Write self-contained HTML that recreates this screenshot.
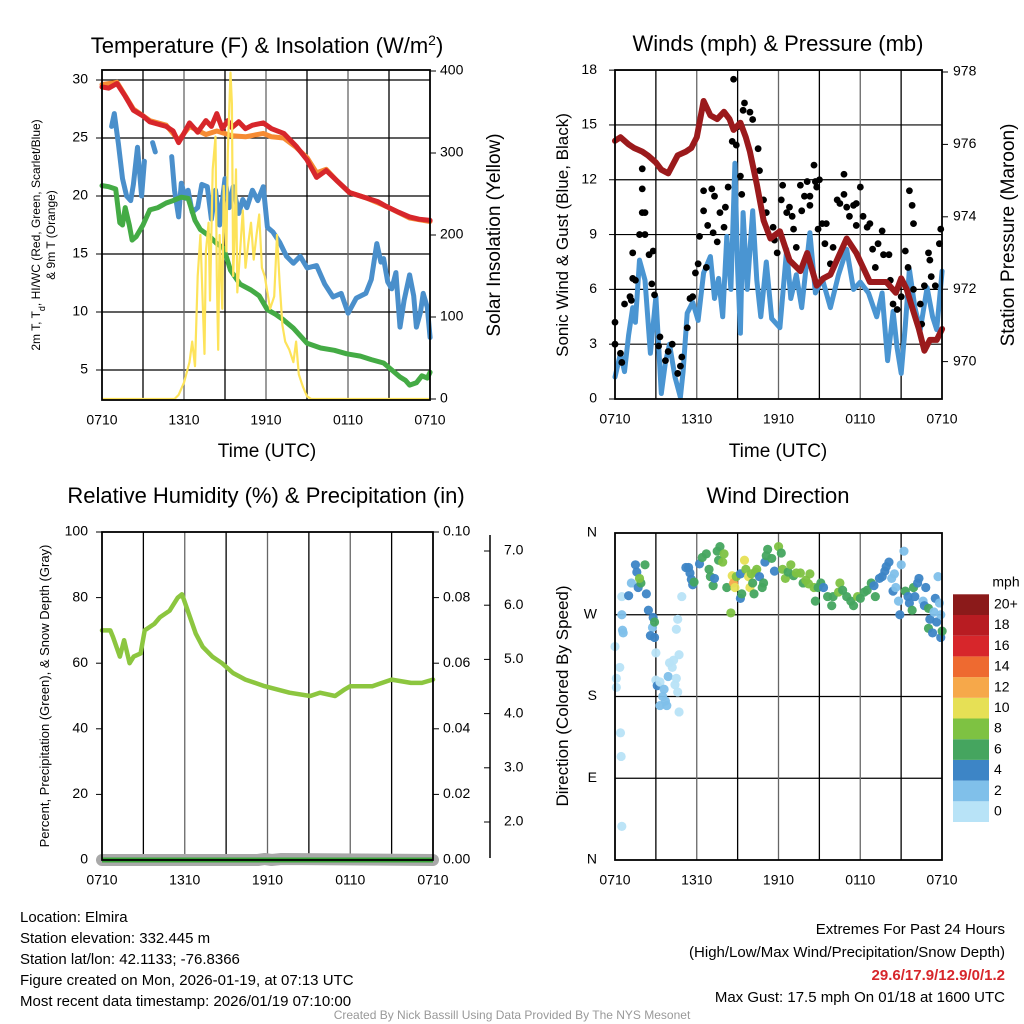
<!DOCTYPE html>
<html><head><meta charset="utf-8"><style>
html,body{margin:0;padding:0;background:#fff}
svg{display:block;font-family:"Liberation Sans",Arial,sans-serif}
</style></head><body>
<svg id="c" width="1024" height="1024" viewBox="0 0 1024 1024" xmlns="http://www.w3.org/2000/svg">
<rect width="1024" height="1024" fill="#fff"/>
<text x="267" y="53" font-size="22" text-anchor="middle">Temperature (F) &amp; Insolation (W/m<tspan baseline-shift="super" font-size="14">2</tspan>)</text>
<text x="778" y="45" font-size="22" text-anchor="middle" dominant-baseline="middle">Winds (mph) &amp; Pressure (mb)</text>
<text x="266" y="497" font-size="22" text-anchor="middle" dominant-baseline="middle">Relative Humidity (%) &amp; Precipitation (in)</text>
<text x="778" y="497" font-size="22" text-anchor="middle" dominant-baseline="middle">Wind Direction</text>

<text transform="translate(40,235) rotate(-90)" font-size="12" text-anchor="middle">2m T, T<tspan baseline-shift="sub" font-size="9">d</tspan>, HI/WC (Red, Green, Scarlet/Blue)</text>
<text transform="translate(55,235) rotate(-90)" font-size="12" text-anchor="middle">&amp; 9m T (Orange)</text>
<text transform="translate(500,235) rotate(-90)" font-size="19" text-anchor="middle">Solar Insolation (Yellow)</text>
<text transform="translate(568,235) rotate(-90)" font-size="17" text-anchor="middle">Sonic Wind &amp; Gust (Blue, Black)</text>
<text transform="translate(1014,235) rotate(-90)" font-size="19" text-anchor="middle">Station Pressure (Maroon)</text>
<text transform="translate(49,696) rotate(-90)" font-size="13" text-anchor="middle">Percent, Precipitation (Green), &amp; Snow Depth (Gray)</text>
<text transform="translate(568,696) rotate(-90)" font-size="17" text-anchor="middle">Direction (Colored By Speed)</text>
<text x="267" y="452" font-size="19" text-anchor="middle" dominant-baseline="middle">Time (UTC)</text>
<text x="778" y="452" font-size="19" text-anchor="middle" dominant-baseline="middle">Time (UTC)</text>

<g font-size="15">
<text x="20" y="922">Location: Elmira</text>
<text x="20" y="943">Station elevation: 332.445 m</text>
<text x="20" y="964">Station lat/lon: 42.1133; -76.8366</text>
<text x="20" y="985">Figure created on Mon, 2026-01-19, at 07:13 UTC</text>
<text x="20" y="1006">Most recent data timestamp: 2026/01/19 07:10:00</text>
</g>
<g font-size="15" text-anchor="end">
<text x="1005" y="934">Extremes For Past 24 Hours</text>
<text x="1005" y="957">(High/Low/Max Wind/Precipitation/Snow Depth)</text>
<text x="1005" y="980" fill="#d7262b" font-weight="bold">29.6/17.9/12.9/0/1.2</text>
<text x="1005" y="1002">Max Gust: 17.5 mph On 01/18 at 1600 UTC</text>
</g>
<text x="512" y="1019" font-size="12" fill="#999" text-anchor="middle">Created By Nick Bassill Using Data Provided By The NYS Mesonet</text>
</svg>
<script>
// ---- Panel 1 data ----
const redT=[0,0.5,1.1,1.7,2.3,3.0,3.5,4.1,4.7,5.2,5.6,5.9,6.4,7.0,7.6,8.0,8.4,8.8,9.2,9.5,10.0,10.5,11.0,11.8,12.4,13.3,14.2,15.0,15.7,16.4,17.2,18.1,19.4,20.2,20.8,21.7,22.5,23.2,24];
const redV=[29.4,29.3,29.7,28.6,27.4,26.9,26.4,26.2,26.0,25.6,24.6,25.2,26.3,25.5,26.5,26.0,27.1,25.8,26.5,25.9,26.4,25.8,26.1,26.3,25.8,25.4,24.3,23.1,21.6,22.2,21.3,20.3,19.8,19.5,19.1,18.6,18.2,18.0,17.9];
const orangeT=[0,1.1,2.3,3.5,4.7,5.6,6.4,7.6,8.4,9.5,10.5,11.8,12.4,13.3,14.2,15.0,15.7,16.4,17.2,18.1,19.4,20.8,22.5,24];
const orangeV=[29.6,29.8,27.5,26.5,26.1,24.8,26.0,25.3,25.6,25.2,25.1,25.4,25.1,25.0,24.2,23.3,22.0,22.3,21.3,20.3,19.8,19.1,18.1,17.8];
const blueT=[0.7,0.9,1.2,1.5,1.8,2.1,2.3,2.6,2.9,3.1,null,3.7,3.9,null,5.1,5.3,5.6,5.8,6.1,6.3,6.6,7.0,7.3,7.7,8.0,8.3,8.6,9.0,9.3,9.6,10.0,10.3,10.6,11.0,11.4,11.8,12.1,12.5,13.0,13.5,14.0,14.5,15.0,15.7,16.3,16.9,17.5,18.0,18.6,19.3,19.7,20.1,20.4,20.6,20.9,21.2,21.5,21.8,22.1,22.5,22.8,23.0,23.3,23.5,23.8,24];
const blueV=[26.0,27.1,24.5,21.5,20.0,19.6,21.0,24.2,20.0,23.0,null,24.6,23.8,null,23.4,20.5,18.2,21.1,19.8,20.5,18.6,19.0,21.0,20.8,18.0,20.5,17.5,21.5,19.0,20.8,18.5,19.7,19.0,20.5,19.6,20.8,17.3,16.9,16.0,14.8,14.2,14.8,13.8,14.0,12.4,11.3,11.6,9.9,11.2,11.6,12.8,15.9,14.3,14.6,12.6,12.0,13.4,8.7,11.0,13.2,11.4,8.7,10.0,11.6,10.4,7.8];
const greenT=[0,0.5,1.0,1.3,1.5,1.7,2.0,2.2,2.5,3.0,3.5,4.1,4.7,5.2,5.8,6.3,6.8,7.2,7.8,8.4,8.9,9.4,10.1,10.9,11.5,12.1,12.7,13.3,14.0,15.0,16.0,17.0,17.9,18.9,19.7,20.6,21.2,21.8,22.2,22.5,23.0,23.4,23.8,24];
const greenV=[20.9,20.8,20.6,17.7,17.5,19.0,17.5,16.2,16.5,17.5,18.8,19.0,19.4,19.6,19.9,19.8,17.9,17.1,16.6,15.9,15.5,13.6,12.4,11.9,11.4,10.2,9.8,9.3,8.6,7.3,6.9,6.7,6.4,6.2,5.9,5.6,5.0,4.4,4.1,3.7,3.9,4.5,4.3,4.8];
const solarT=[0,5.3,5.6,6.0,6.4,6.6,6.8,7.0,7.2,7.4,7.5,7.6,7.8,7.9,8.1,8.3,8.4,8.5,8.6,8.8,8.9,9.1,9.2,9.4,9.5,9.6,9.7,9.8,9.9,10.1,10.3,10.5,10.7,10.9,11.1,11.3,11.5,11.7,11.9,12.1,12.3,12.6,12.8,13.0,13.2,13.4,13.7,14.0,14.2,14.4,14.7,15.0,15.3,24];
const solarV=[0,0,5,20,45,70,40,150,200,100,55,180,215,120,280,320,150,60,200,110,260,180,300,398,360,150,200,280,130,180,230,160,190,215,170,200,225,160,150,130,110,125,200,140,90,70,60,45,70,30,15,3,0,0];
const tempTicks=[30,25,20,15,10,5];
const solarTicks=[400,300,200,100,0];
const timeTicks=["0710","1310","1910","0110","0710"];
// ---- Panel 2 data ----
const windT=[0,0.4,0.7,1.0,1.3,1.5,1.8,2.2,2.6,3.0,3.4,3.7,4.0,4.4,4.8,5.0,5.3,5.7,6.1,6.5,7.0,7.3,7.6,7.9,8.2,8.5,8.8,9.0,9.2,9.4,9.7,10.1,10.4,10.7,11.1,11.5,12.1,12.6,12.9,13.3,13.7,14.3,14.7,15.2,15.8,16.4,17.0,17.5,18.0,18.6,19.2,19.6,20.0,20.4,20.7,21.0,21.3,21.6,22.0,22.4,22.9,23.3,23.6,24];
const windV=[1.2,2.5,1.5,3.5,5.0,4.2,7.6,6.5,2.5,5.6,0.3,2.0,3.0,1.2,0.1,1.5,4.7,5.3,4.3,6.9,7.8,5.5,6.6,4.5,8.9,6.0,12.9,7.0,3.6,10.2,6.0,10.3,6.5,4.5,7.5,4.4,3.9,8.2,5.5,6.8,5.0,9.1,5.8,6.6,5.0,6.8,8.2,6.0,6.4,5.8,4.5,5.8,2.1,4.8,2.8,1.4,4.0,7.1,5.0,3.8,6.1,4.5,3.8,7.0];
const presT=[0,0.4,1.0,1.4,2.0,2.4,3.0,3.4,3.9,4.6,5.2,5.6,6.0,6.5,7.0,7.5,8.0,8.4,8.7,9.2,9.6,9.9,10.4,10.9,11.4,12.1,12.8,13.6,14.1,14.8,15.3,15.8,16.4,17.0,17.7,18.2,18.7,19.3,19.9,20.6,21.0,21.4,21.8,22.3,22.7,23.1,23.6,24];
const presV=[976.1,976.2,976.0,975.9,975.8,975.7,975.5,975.3,975.2,975.7,975.8,975.9,976.2,977.2,976.8,976.7,976.9,976.7,976.4,976.6,976.2,975.8,974.9,973.9,973.4,973.6,972.8,972.5,973.0,972.1,972.3,972.4,972.9,973.4,973.0,972.6,972.2,972.2,972.2,971.9,972.3,972.0,971.5,970.9,970.3,970.6,970.6,970.9];
const gustT=[0,0,0.4,0.5,0.7,1.1,1.2,1.3,1.5,1.3,1.8,2.0,2.2,2.0,2.0,2.2,2.5,2.8,2.7,2.9,3.2,3.3,3.7,4.2,3.9,4.8,4.6,4.9,5.3,5.5,5.7,5.9,6.1,6.2,6.7,6.8,6.5,6.5,7.1,7.2,7.5,7.3,7.7,8.0,8.1,8.3,8.6,8.7,8.9,9.0,9.2,9.3,9.5,9.4,9.9,10.1,10.5,10.6,10.9,11.1,11.6,11.7,11.9,12.2,12.3,12.6,12.8,13.0,13.1,13.3,13.6,13.7,13.9,14.1,14.3,14.3,14.6,14.7,14.8,15.0,14.9,15.2,15.5,15.4,15.8,16.0,16.3,16.5,16.8,16.8,17.0,17.2,17.5,17.7,17.7,18.0,18.2,18.5,18.7,18.9,19.1,19.3,19.6,19.7,20.1,20.2,20.4,20.7,21.0,21.3,21.5,21.6,21.8,21.9,21.9,22.4,22.5,22.7,23.0,23.1,23.2,23.5,23.8,23.9];
const gustV=[4.2,3.0,2.5,2.0,5.2,5.6,5.4,6.6,6.5,8.0,9.0,10.2,10.2,11.5,12.6,9.0,7.9,8.1,6.3,5.7,2.9,3.4,2.1,3.0,2.6,1.8,1.4,2.3,3.9,5.5,5.6,6.9,7.4,8.9,7.2,9.5,10.3,11.4,11.5,9.1,8.6,11.1,10.2,9.4,10.5,11.6,14.1,17.5,13.9,14.9,12.2,11.2,16.2,15.8,15.7,15.3,13.7,12.5,10.9,10.2,9.4,8.7,8.0,10.9,11.7,10.2,10.5,10.0,9.3,8.3,11.7,10.3,11.1,11.9,10.6,11.1,12.8,11.9,11.6,12.0,9.3,9.6,9.6,8.5,7.4,8.3,10.9,10.7,12.3,11.2,10.5,10.0,10.6,10.7,9.5,11.6,10.0,9.4,9.6,8.2,7.2,8.5,9.2,7.9,7.9,6.5,5.2,4.9,5.6,8.1,7.2,11.4,10.6,9.6,6.0,5.2,4.1,6.2,8.0,7.6,6.7,6.2,8.5,9.3];
const windTicks=[0,3,6,9,12,15,18];
const presTicks=[970,972,974,976,978];
// ---- Panel 3 data ----
const rhT=[0,0.6,0.8,1.3,1.6,2.0,2.3,2.8,3.1,3.8,4.2,4.9,5.5,5.8,6.3,6.8,7.3,8.0,8.7,9.5,10.4,11.8,13.6,15.1,15.8,16.9,17.6,18.0,19.6,21.0,22.4,23.2,24];
const rhV=[70,70,68,62,67,60,62,63,70,72,74,76,80,81,75,69,65,62,60,57,55,53,51,50,51,50,52,53,53,55,54,54,55];
const precipT=[0,24];
const precipV=[0,0];
const snowT=[0,11.3,11.8,12.3,13.0,24];
const snowV=[0,0,0.3,0,0.3,0];
const rhTicks=[0,20,40,60,80,100];
const precipTicks=["0.00","0.02","0.04","0.06","0.08","0.10"];
const snowTicks=[2.0,3.0,4.0,5.0,6.0,7.0];
// ---- Panel 4 data ----
const dirT=[0,0.1,0.1,0.4,0.45,0.5,0.35,0.55,0.6,0.5,0.5,1.0,1.2,1.5,1.6,1.7,1.9,1.8,2.2,2.3,2.45,2.8,2.75,2.9,2.9,2.6,3.0,3.0,3.1,3.3,3.3,3.5,3.6,3.7,3.8,3.9,4.0,4.2,4.3,4.4,4.5,4.6,4.7,4.7,4.5,4.6,4.9,5.2,5.4,5.5,5.6,5.7,5.8,6.2,6.4,6.7,6.9,7.0,7.2,7.3,7.5,7.7,7.6,7.9,8.0,8.2,8.5,8.6,8.7,8.8,8.9,9.2,9.2,9.3,9.5,9.6,9.8,9.9,10.0,10.1,10.2,10.3,10.4,10.6,10.8,10.9,11.0,11.1,11.2,11.5,11.7,12.0,12.2,12.3,12.5,12.7,12.9,13.1,13.3,13.6,13.8,14.0,14.2,14.3,14.6,14.7,14.9,15.1,15.3,15.6,15.9,16.0,16.4,16.5,16.7,17.0,17.3,17.5,17.8,18.0,18.3,18.5,18.8,19.0,19.1,19.4,19.6,19.8,19.9,20.1,20.3,20.4,20.5,20.6,20.8,20.9,21.0,21.2,21.3,21.5,21.6,21.8,21.9,22.0,22.2,22.3,22.6,22.7,22.8,23.0,23.0,23.1,23.3,23.4,23.5,23.6,23.7,23.8,23.9,24,23.9];
const dirDeg=[235,200,190,140,114,37,212,253,250,270,290,291,305,325,317,300,305,310,325,293,275,267,256,262,245,247,228,198,192,196,170,180,188,175,170,202,217,212,220,193,200,185,163,226,254,265,290,322,322,316,309,303,306,326,333,337,320,312,302,310,340,345,330,328,337,300,272,313,305,300,312,315,288,293,330,320,312,300,315,305,293,317,320,312,300,305,328,335,342,332,318,345,338,320,310,317,325,313,316,316,305,308,304,315,300,285,300,305,300,290,280,290,295,305,297,290,285,280,290,288,295,297,305,302,290,310,312,318,323,328,310,296,315,300,285,270,325,340,296,290,283,275,300,290,305,310,285,280,300,277,255,265,250,273,288,262,312,283,245,252,270];
const dirSpd=[1,1,1,1,1,1,1,3,3,3,1,5,3,5,5,5,7,9,7,5,5,5,3,7,5,5,1,1,5,1,3,3,3,3,3,3,1,1,1,1,1,1,1,1,1,1,1,5,5,5,5,5,7,5,7,7,7,7,7,5,7,7,7,9,9,7,9,11,13,11,9,5,5,7,11,9,11,11,9,7,7,9,9,5,7,7,5,7,7,7,5,9,7,9,9,7,9,7,9,9,7,9,9,9,9,7,7,7,5,7,7,7,9,9,7,7,7,7,9,7,7,7,7,5,7,5,5,5,5,5,3,5,3,3,3,5,3,3,7,5,5,7,7,5,5,5,3,5,5,7,7,5,5,3,5,5,3,3,5,7,3];
const dirTicks=["N","E","S","W","N"];
const speedLevels=["0","2","4","6","8","10","12","14","16","18","20+"];
const speedColors=["#b8e3f7","#80c0ea","#3d85c6","#45a55f","#7ec242","#e6e055","#f6a84a","#ee6a30","#d7262b","#b81c22","#8b1a1a"];

const NS="http://www.w3.org/2000/svg";
const svg=document.getElementById('c');
function mk(tag,attrs,parent){const e=document.createElementNS(NS,tag);for(const k in attrs)e.setAttribute(k,attrs[k]);(parent||svg).appendChild(e);return e;}
function pathD(ts,vs,fx,fy){let d="",pen=false;for(let i=0;i<ts.length;i++){if(ts[i]===null){pen=false;continue;}d+=(pen?"L":"M")+fx(ts[i]).toFixed(1)+","+fy(vs[i]).toFixed(1);pen=true;}return d;}
function txt(x,y,s,size,anchor,parent){const t=mk('text',{x:x,y:y,'font-size':size,'text-anchor':anchor,'dominant-baseline':'middle'},parent);t.textContent=s;return t;}

function panelFrame(name,x0,x1,y0,y1,hy){
  const g=mk('g',{});
  
  
  for(const y of hy){mk('line',{x1:x0,x2:x1,y1:y,y2:y,stroke:'#000','stroke-width':1.2},g);}
  for(let i=1;i<8;i++){const x=x0+(x1-x0)*i/8;mk('line',{x1:x,x2:x,y1:y0,y2:y1,stroke:(i%2==0?'#666':'#000'),'stroke-width':1.3},g);}
  for(let i=0;i<5;i++){const x=x0+(x1-x0)*i/4;const t=txt(x,y1+21,timeTicks[i],14,'middle',g);
    
    }
  return g;
}
function frameBox(x0,x1,y0,y1){const r=mk('rect',{x:x0,y:y0,width:x1-x0,height:y1-y0,fill:'none',stroke:'#000','stroke-width':1.8});
  
  }

// ---------- Panel 1 ----------
const X1=t=>102+t*13.67, Y1=v=>80+(30-v)*11.6, S1=s=>399-s*0.82;
panelFrame('temperature',102,430,70,400,tempTicks.map(Y1));
for(const v of tempTicks){mk('line',{x1:96,x2:102,y1:Y1(v),y2:Y1(v),stroke:'#000'});const t=txt(88,Y1(v),String(v),14,'end');
  
  }
for(const v of solarTicks){mk('line',{x1:430,x2:436,y1:S1(v),y2:S1(v),stroke:'#000'});const t=txt(440,S1(v),String(v),14,'start');
  
  }
let p;
p=mk('path',{d:pathD(orangeT,orangeV,X1,Y1),fill:'none',stroke:'#f68b33','stroke-width':5,'stroke-linejoin':'round','stroke-linecap':'round'});

p=mk('path',{d:pathD(redT,redV,X1,Y1),fill:'none',stroke:'#d7262b','stroke-width':5,'stroke-linejoin':'round','stroke-linecap':'round'});

p=mk('path',{d:pathD(blueT,blueV,X1,Y1),fill:'none',stroke:'#4a8fcb','stroke-width':5,'stroke-linejoin':'round','stroke-linecap':'round'});

p=mk('path',{d:pathD(greenT,greenV,X1,Y1),fill:'none',stroke:'#44ab45','stroke-width':5,'stroke-linejoin':'round','stroke-linecap':'round'});

p=mk('path',{d:pathD(solarT,solarV,X1,S1),fill:'none',stroke:'#fde35a','stroke-width':2.2,'stroke-linejoin':'round'});

frameBox(102,430,70,400);

// ---------- Panel 2 ----------
const X2=t=>615+t*13.63, Y2=v=>399-v*18.27, P2=p=>72+(978-p)*36.2;
panelFrame('wind',615,942,70,399,windTicks.slice(1).map(Y2));
for(const v of windTicks){mk('line',{x1:609,x2:615,y1:Y2(v),y2:Y2(v),stroke:'#000'});const t=txt(597,Y2(v),String(v),14,'end');
  
  }
for(const v of presTicks){mk('line',{x1:942,x2:948,y1:P2(v),y2:P2(v),stroke:'#000'});const t=txt(953,P2(v),String(v),14,'start');
  
  }
p=mk('path',{d:pathD(windT,windV,X2,Y2),fill:'none',stroke:'#4a95d2','stroke-width':5,'stroke-linejoin':'round','stroke-linecap':'round'});

for(let i=0;i<gustT.length;i++){const c=mk('circle',{cx:X2(gustT[i]),cy:Y2(gustV[i]),r:3.4,fill:'#000'});
  
  }
p=mk('path',{d:pathD(presT,presV,X2,P2),fill:'none',stroke:'#9b1a1c','stroke-width':6,'stroke-linejoin':'round','stroke-linecap':'round'});

frameBox(615,942,70,399);

// ---------- Panel 3 ----------
const X3=t=>102+t*13.79, Y3=v=>860-v*3.28, SN=s=>822-(s-2)*54.2;
panelFrame('humidity',102,433,532,860,[]);
for(let i=0;i<rhTicks.length;i++){const v=rhTicks[i];mk('line',{x1:96,x2:102,y1:Y3(v),y2:Y3(v),stroke:'#000'});const t=txt(88,Y3(v),String(v),14,'end');
  
  
  mk('line',{x1:433,x2:439,y1:Y3(v),y2:Y3(v),stroke:'#000'});const t2=txt(443,Y3(v),precipTicks[i],14,'start');
  
  }
mk('line',{x1:490,x2:490,y1:535,y2:858,stroke:'#000','stroke-width':1.5});
for(const v of snowTicks){mk('line',{x1:484,x2:490,y1:SN(v),y2:SN(v),stroke:'#000'});const t=txt(504,SN(v),v.toFixed(1),14,'start');
  
  }
p=mk('path',{d:pathD(snowT,snowV,X3,Y3),fill:'none',stroke:'#a9a9a9','stroke-width':12,'stroke-linejoin':'round','stroke-linecap':'round'});

p=mk('path',{d:pathD(precipT,precipV,X3,Y3),fill:'none',stroke:'#3aa63a','stroke-width':5});

p=mk('path',{d:pathD(rhT,rhV,X3,Y3),fill:'none',stroke:'#8cc63f','stroke-width':4.5,'stroke-linejoin':'round','stroke-linecap':'round'});

frameBox(102,433,532,860);

// ---------- Panel 4 ----------
const X4=t=>615+t*13.63, Y4=d=>860-d*327/360;
panelFrame('direction',615,942,533,860,[90,180,270].map(Y4));
for(let i=0;i<5;i++){const d=i*90;const t=txt(597,Y4(d),dirTicks[i],14,'end');
  
  }
for(let i=0;i<dirT.length;i++){const c=mk('circle',{cx:X4(dirT[i]),cy:Y4(dirDeg[i]),r:4.6,fill:speedColors[Math.min(10,Math.floor(dirSpd[i]/2))],opacity:0.95});
  
  }
frameBox(615,942,533,860);
// legend
const lg=mk('g',{});


const lt=txt(1006,583,'mph',14,'middle',lg);


for(let i=0;i<speedLevels.length;i++){const y=822-(i+1)*20.7;
  const r=mk('rect',{x:953,y:y,width:36,height:20.7,fill:speedColors[i]},lg);
  
  
  const t=txt(994,y+10.5,speedLevels[i],14,'start',lg);
  
  }
</script>
</body></html>
